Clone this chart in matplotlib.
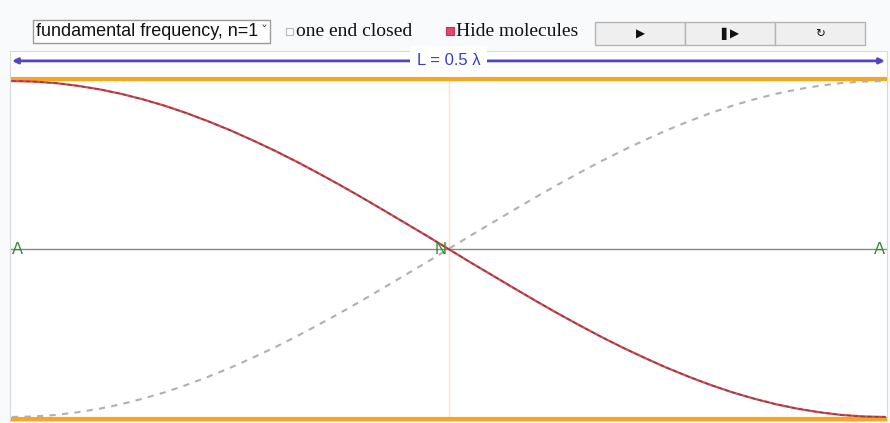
import matplotlib

matplotlib.use('Agg')

import matplotlib.pyplot as plt
from matplotlib.patches import Rectangle

# position along the tube, in units of L
x_pos = [0.0, 0.025, 0.05, 0.075, 0.1, 0.125, 0.15, 0.175, 0.2, 0.225, 0.25,
         0.275, 0.3, 0.325, 0.35, 0.375, 0.4, 0.425, 0.45, 0.475, 0.5,
         0.525, 0.55, 0.575, 0.6, 0.625, 0.65, 0.675, 0.7, 0.725, 0.75,
         0.775, 0.8, 0.825, 0.85, 0.875, 0.9, 0.925, 0.95, 0.975, 1.0]
# displacement (normalised amplitude)
disp = [1.0, 0.997, 0.988, 0.972, 0.951, 0.924, 0.891, 0.853, 0.809, 0.760, 0.707,
        0.649, 0.588, 0.523, 0.454, 0.383, 0.309, 0.233, 0.156, 0.079, 0.0,
        -0.079, -0.156, -0.233, -0.309, -0.383, -0.454, -0.523, -0.588, -0.649, -0.707,
        -0.760, -0.809, -0.853, -0.891, -0.924, -0.951, -0.972, -0.988, -0.997, -1.0]
disp_mirror = [-v for v in disp]

node_labels = ["A", "N", "A"]
node_x = [0.0, 0.5, 1.0]

W, H = 890, 423
fig = plt.figure(figsize=(W / 100, H / 100), dpi=100)
fig.patch.set_facecolor("#f8fafb")


def fx(px):
    return px / W


def fy(py):
    return 1 - py / H


# controls row
fig.patches.append(Rectangle((fx(33), fy(43)), fx(237), 23 / H, transform=fig.transFigure,
                             facecolor="white", edgecolor="#9a9a9a", lw=1))
fig.text(fx(36), fy(31), "fundamental frequency, n=1", fontsize=13, family="Liberation Sans",
         va="center", ha="left", color="#111111")
fig.text(fx(268), fy(32), "\u02c7", fontsize=10, family="DejaVu Sans", va="center", ha="right",
         color="#444444")
fig.patches.append(Rectangle((fx(286), fy(35)), fx(7), 7 / H, transform=fig.transFigure,
                             facecolor="white", edgecolor="#b8b8b8", lw=0.8))
fig.text(fx(296), fy(31), "one end closed", fontsize=14, family="Liberation Serif",
         va="center", ha="left", color="#111111")
fig.patches.append(Rectangle((fx(446), fy(35)), fx(8), 8 / H, transform=fig.transFigure,
                             facecolor="#e0486c", edgecolor="#c03050", lw=0.8))
fig.text(fx(456), fy(31), "Hide molecules", fontsize=14, family="Liberation Serif",
         va="center", ha="left", color="#111111")
for i, sym in enumerate(["\u25b6", "\u258c\u25b6", "\u21bb"]):
    x0 = 595 + i * 90
    fig.patches.append(Rectangle((fx(x0), fy(45)), fx(90), 23 / H, transform=fig.transFigure,
                                 facecolor="#efefef", edgecolor="#b5b5b5", lw=1))
    fig.text(fx(x0 + 45), fy(34), sym, fontsize=8.5, family="DejaVu Sans", va="center",
             ha="center", color="#111111")

# plot area
ax = fig.add_axes([fx(10), fy(421), fx(877), 370 / H])
ax.set_facecolor("white")
for s in ax.spines.values():
    s.set_color("#d8d8d8")
ax.set_xticks([])
ax.set_yticks([])
ax.set_xlim(-0.0023, 1.0023)
ax.set_ylim(-1.024, 1.179)

ax.axhline(1.013, color="#f5a623", lw=3, zorder=2)
ax.axhline(-1.013, color="#f5a623", lw=3, zorder=2)
ax.plot([0.5, 0.5], [-1.013, 1.013], color="#fbe3bd", lw=1, zorder=1)
ax.axhline(0.0, color="#888888", lw=1, zorder=1)

ax.plot(x_pos, disp_mirror, color="#b0b0b0", lw=1.5, ls=(0, (3, 3)), zorder=3)
ax.plot(x_pos, disp, color="#e8434c", lw=1.6, zorder=4)
ax.plot(x_pos, disp, color="#6b4a55", lw=1.0, ls=(0, (3, 2)), zorder=5)

# length arrow
ax.annotate("", xy=(1.0, 1.12), xytext=(0.0, 1.12),
            arrowprops=dict(arrowstyle="<|-|>", color="#5046c4", lw=2,
                            mutation_scale=8, shrinkA=0, shrinkB=0))
ax.text(0.5, 1.12, "L = 0.5 \u03bb", ha="center", va="center", fontsize=12,
        family="Liberation Sans", color="#3a3ad0", zorder=6,
        bbox=dict(facecolor="white", edgecolor="none", pad=5))

for lab, nx in zip(node_labels, node_x):
    ha = "left" if nx == 0 else ("right" if nx == 1 else "center")
    off = -0.009 if nx == 0.5 else 0
    ax.text(nx + off, 0.0, lab, ha=ha, va="center", fontsize=12, family="Liberation Sans",
            color="#2e8b2e", zorder=6)

fig.savefig("out.png", dpi=100, facecolor=fig.get_facecolor())
